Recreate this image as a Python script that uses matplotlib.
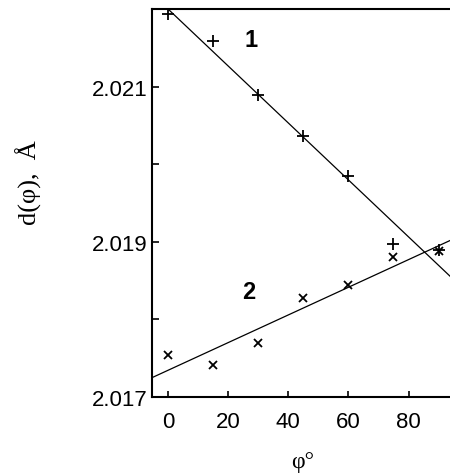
import numpy as np
import matplotlib.pyplot as plt

plt.rcParams['font.family'] = ['Liberation Sans', 'DejaVu Sans']

phi = [0, 15, 30, 45, 60, 75, 90]
d1 = [2.02194, 2.02159, 2.02089, 2.02037, 2.01985, 2.01897, 2.01890]
d2 = [2.01754, 2.01741, 2.01770, 2.01828, 2.01844, 2.01881, 2.01888]

# fitted lines from the paper
fit1_phi = [0, 94]
fit1_d = [2.02200, 2.01855]
fit2_phi = [-5.3, 94]
fit2_d = [2.01725, 2.01902]

fig = plt.figure(figsize=(4.5, 4.77), dpi=100)
ax = fig.add_axes([0.338, 0.1656, 0.67, 0.8134])

ax.plot(fit1_phi, fit1_d, 'k-', lw=0.9)
ax.plot(fit2_phi, fit2_d, 'k-', lw=0.9)
ax.plot(phi, d1, 'k+', ms=9, mew=1.3)
ax.plot(phi, d2, 'kx', ms=6, mew=1.3)

ax.text(27.5, 2.02161, '1', fontsize=17, fontweight='bold', ha='center', va='center')
ax.text(27.0, 2.01836, '2', fontsize=17, fontweight='bold', ha='center', va='center')

ax.set_xlim(-5.3, 95)
ax.set_ylim(2.017, 2.022)
ax.set_xticks([0, 20, 40, 60, 80])
ax.set_yticks([2.017, 2.018, 2.019, 2.020, 2.021])
ax.set_yticklabels(['2.017', '', '2.019', '', '2.021'])
ax.tick_params(direction='in', length=5, width=1.2, labelsize=16, pad=3)
ax.tick_params(axis='x', length=4, pad=10)
for s in ['left', 'bottom', 'top']:
    ax.spines[s].set_linewidth(1.5)
ax.spines['right'].set_visible(False)

ax.set_xlabel('φ°', fontsize=17, family=['Liberation Serif', 'DejaVu Serif'], labelpad=14)
ax.set_ylabel('d(φ),  Å', fontsize=19, family=['Liberation Serif', 'DejaVu Serif'])
ax.yaxis.set_label_coords(-0.365, 0.554)

fig.savefig('out.png', dpi=100)
